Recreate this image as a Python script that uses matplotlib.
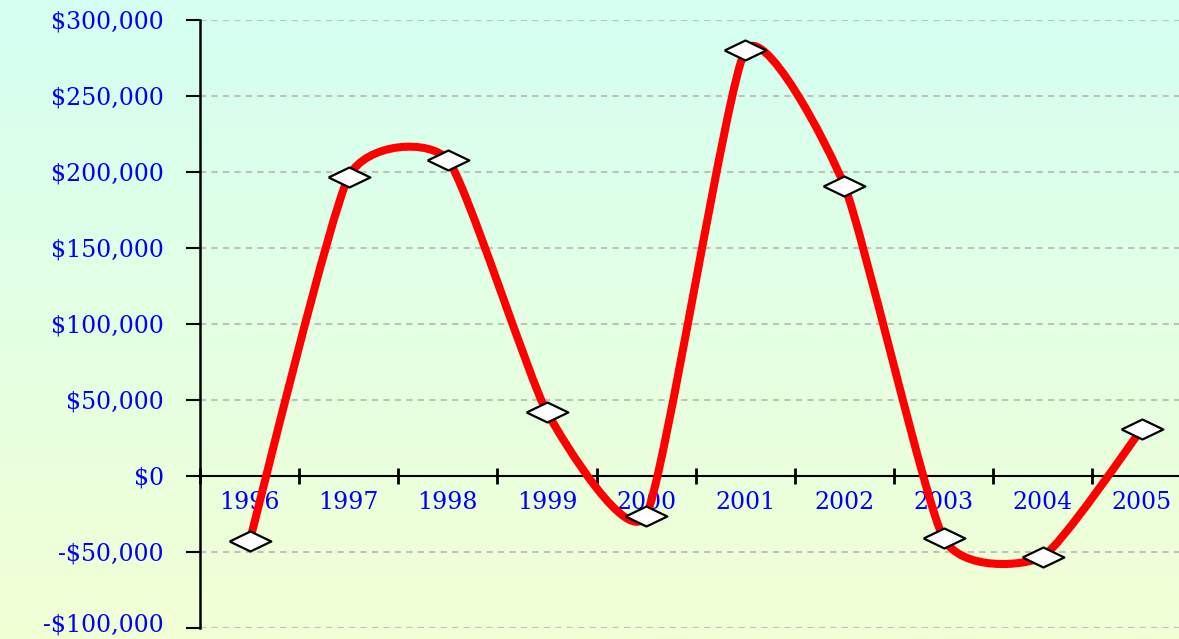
import numpy as np
import matplotlib
matplotlib.use("Agg")
import matplotlib.pyplot as plt
import matplotlib.transforms as mtransforms
from matplotlib.path import Path
from matplotlib.patches import PathPatch
from matplotlib.ticker import FuncFormatter, FixedLocator

# Data
years = ["1996", "1997", "1998", "1999", "2000", "2001", "2002", "2003", "2004", "2005"]
values = [-43000, 197000, 208000, 42000, -26000, 280000, 191000, -41000, -53000, 31000]
y_ticks = list(range(-100000, 300001, 50000))


def money(v, pos=None):
    if v < 0:
        return "-${:,.0f}".format(-v)
    return "${:,.0f}".format(v)


def smooth_path(xs, ys, t=0.09):
    # Bezier smoothing in the style of spreadsheet "smoothed line"
    n = len(xs)
    verts = [(xs[0], ys[0])]
    codes = [Path.MOVETO]
    for i in range(n - 1):
        i0 = max(i - 1, 0)
        i3 = min(i + 2, n - 1)
        c1 = (xs[i] + t * (xs[i + 1] - xs[i0]), ys[i] + t * (ys[i + 1] - ys[i0]))
        c2 = (xs[i + 1] - t * (xs[i3] - xs[i]), ys[i + 1] - t * (ys[i3] - ys[i]))
        verts += [c1, c2, (xs[i + 1], ys[i + 1])]
        codes += [Path.CURVE4] * 3
    return Path(verts, codes)


fig = plt.figure(figsize=(11.79, 6.39), dpi=100)

# Gradient background
bg = fig.add_axes([0, 0, 1, 1], zorder=-1)
top = np.array([212, 255, 242]) / 255
bottom = np.array([242, 255, 212]) / 255
grad = np.linspace(0, 1, 256)[:, None, None]
img = top * (1 - grad) + bottom * grad
bg.imshow(img, aspect="auto", extent=[0, 1, 0, 1])
bg.axis("off")

W, H = 1179, 639
ax = fig.add_axes([200 / W, 11 / H, 979 / W, 608 / H])
ax.set_facecolor("none")

x = np.arange(len(years)) + 0.5
ax.set_xlim(0, 979 / 99.14)
ax.set_ylim(-100000, 300000)

# Smoothed red line
path = smooth_path(list(x), values)
ax.add_patch(PathPatch(path, facecolor="none", edgecolor="#FF0000", lw=5.8,
                       capstyle="round", joinstyle="round", zorder=3))

# Diamond markers
diamond = [(-1, 0), (0, 0.48), (1, 0), (0, -0.48), (-1, 0)]
ax.plot(x, values, linestyle="none", marker=diamond, markersize=30,
        markerfacecolor="white", markeredgecolor="black", markeredgewidth=1.6,
        zorder=4, clip_on=False)

# Spines
for s in ["top", "right"]:
    ax.spines[s].set_visible(False)
ax.spines["left"].set_linewidth(1.8)
ax.spines["bottom"].set_position(("data", 0))
ax.spines["bottom"].set_linewidth(1.5)

# Y axis
ax.set_yticks(y_ticks)
ax.yaxis.set_major_formatter(FuncFormatter(money))
ax.tick_params(axis="y", direction="out", length=10, width=1.5, pad=16,
               labelcolor="#0000FF", labelsize=17)
for lbl in ax.get_yticklabels():
    lbl.set_family("DejaVu Serif")
    lbl.set_verticalalignment("center_baseline")
# keep the lowest label inside the picture
low = ax.yaxis.get_major_ticks()[0].label1
low.set_transform(low.get_transform() +
                  mtransforms.ScaledTranslation(0, 4 / 72, fig.dpi_scale_trans))

# X axis at zero: category boundaries as ticks, names centred
ax.xaxis.set_major_locator(FixedLocator(range(0, 11)))
ax.xaxis.set_minor_locator(FixedLocator(x))
ax.set_xticklabels([], minor=False)
ax.set_xticklabels(years, minor=True, family="DejaVu Serif")
ax.tick_params(axis="x", which="major", direction="inout", length=11, width=2)
ax.tick_params(axis="x", which="minor", length=0, pad=11,
               labelcolor="#0000FF", labelsize=17)

# Gridlines
ax.yaxis.grid(True, color="#C0C0C0", linestyle=(0, (3, 2.5)), linewidth=1.5)
ax.set_axisbelow(True)

plt.savefig("out.png", dpi=100)
